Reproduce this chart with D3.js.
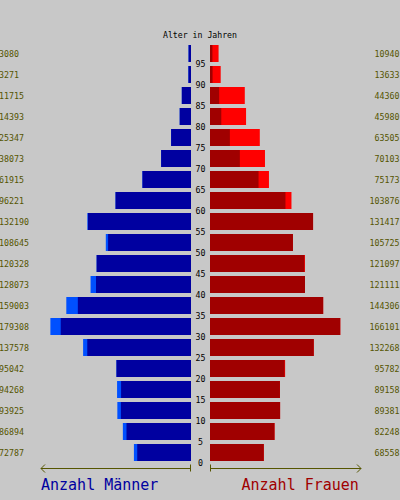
<!DOCTYPE html>
<html>
<head>
<meta charset="utf-8">
<script src="https://cdn.jsdelivr.net/npm/d3@7"></script>
<style>
	html, body { margin: 0; padding: 0; background: #c8c8c8; }
	svg { display: block; }
	text { font-family: 'DejaVu Sans Mono', monospace; }
</style>
</head>
<body>
<svg id="chart" width="400" height="500"></svg>
<script>
	// Altersgruppen (untere Grenze), von unten nach oben
	const ages = [0, 5, 10, 15, 20, 25, 30, 35, 40, 45, 50, 55, 60, 65, 70, 75, 80, 85, 90, 95]
	const men = [72787, 86894, 93925, 94268, 95042, 137578, 179308, 159003, 128073, 120328,
		108645, 132190, 96221, 61915, 38073, 25347, 14393, 11715, 3271, 3080]
	const women = [68558, 82248, 89381, 89158, 95782, 132268, 166101, 144306, 121111, 121097,
		105725, 131417, 103876, 75173, 70103, 63505, 45980, 44360, 13633, 10940]
	const maxValue = 190000

	const rows = ages.map((age, i) => ({ age, m: men[i], f: women[i] }))

	const svg = d3.select('#chart')
	const mid = { left: 191, right: 210 }

	const x = d3.scaleLinear().domain([0, maxValue]).range([0, 149])
	const y = d3.scaleBand()
		.domain(ages.slice().reverse())
		.range([43, 463])
		.paddingInner(4 / 21)
		.paddingOuter(2 / 21)

	const olive = '#555500'

	svg.append('text')
		.attr('x', 200).attr('y', 35)
		.attr('text-anchor', 'middle').attr('dominant-baseline', 'central')
		.attr('font-size', '8.2px').attr('fill', '#000')
		.text('Alter in Jahren')

	const gRows = svg.append('g').selectAll('g')
		.data(rows)
		.enter()
		.append('g')

	// Männer: dunkler Teil = gemeinsamer Anteil, heller Teil = Überschuss
	gRows.append('rect')
		.attr('x', (d) => mid.left - x(d.m))
		.attr('y', (d) => y(d.age))
		.attr('width', (d) => x(d.m))
		.attr('height', y.bandwidth())
		.attr('fill', '#0050ff')
	gRows.append('rect')
		.attr('x', (d) => mid.left - x(Math.min(d.m, d.f)))
		.attr('y', (d) => y(d.age))
		.attr('width', (d) => x(Math.min(d.m, d.f)))
		.attr('height', y.bandwidth())
		.attr('fill', '#0000a0')

	// Frauen
	gRows.append('rect')
		.attr('x', mid.right)
		.attr('y', (d) => y(d.age))
		.attr('width', (d) => x(d.f))
		.attr('height', y.bandwidth())
		.attr('fill', '#ff0000')
	gRows.append('rect')
		.attr('x', mid.right)
		.attr('y', (d) => y(d.age))
		.attr('width', (d) => x(Math.min(d.m, d.f)))
		.attr('height', y.bandwidth())
		.attr('fill', '#a00000')

	gRows.append('text')
		.attr('x', -1)
		.attr('y', (d) => y(d.age) + y.bandwidth() / 2)
		.attr('dominant-baseline', 'central')
		.attr('font-size', '8.3px').attr('fill', olive)
		.text((d) => d.m)

	gRows.append('text')
		.attr('x', 399.5)
		.attr('y', (d) => y(d.age) + y.bandwidth() / 2)
		.attr('text-anchor', 'end')
		.attr('dominant-baseline', 'central')
		.attr('font-size', '8.3px').attr('fill', olive)
		.text((d) => d.f)

	gRows.append('text')
		.attr('x', 200.5)
		.attr('y', (d) => y(d.age) + y.bandwidth() + 1.5)
		.attr('text-anchor', 'middle')
		.attr('dominant-baseline', 'central')
		.attr('font-size', '8.3px').attr('fill', '#000')
		.text((d) => d.age)

	// Achsenpfeile
	const axisY = 468.5
	const gAxis = svg.append('g').attr('stroke', olive).attr('fill', 'none').attr('stroke-width', 1)
	const leftEnd = mid.left - x(maxValue) - 1
	const rightEnd = mid.right + x(maxValue) + 2
	gAxis.append('path').attr('d', `M${mid.left - 0.5},${axisY} H${leftEnd}`)
	gAxis.append('path').attr('d', `M${mid.left - 0.5},${axisY - 4} V${axisY + 3}`)
	gAxis.append('path').attr('d', `M${leftEnd + 4},${axisY - 4} L${leftEnd},${axisY} L${leftEnd + 4},${axisY + 4}`)
	gAxis.append('path').attr('d', `M${mid.right + 0.5},${axisY} H${rightEnd}`)
	gAxis.append('path').attr('d', `M${mid.right + 0.5},${axisY - 4} V${axisY + 3}`)
	gAxis.append('path').attr('d', `M${rightEnd - 4},${axisY - 4} L${rightEnd},${axisY} L${rightEnd - 4},${axisY + 4}`)

	svg.append('text')
		.attr('x', 41).attr('y', 490)
		.attr('font-size', '15px').attr('fill', '#0000a0')
		.text('Anzahl Männer')

	svg.append('text')
		.attr('x', 241.5).attr('y', 490)
		.attr('font-size', '15px').attr('fill', '#a00000')
		.text('Anzahl Frauen')
</script>
</body>
</html>
